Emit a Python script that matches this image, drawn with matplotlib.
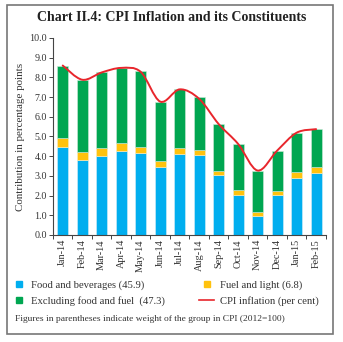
import matplotlib
matplotlib.use("Agg")
import matplotlib.pyplot as plt
import numpy as np
from matplotlib.lines import Line2D
from matplotlib.patches import Rectangle, PathPatch
from matplotlib.path import Path

# data (contribution in percentage points)
months = ["Jan-14", "Feb-14", "Mar-14", "Apr-14", "May-14", "Jun-14", "Jul-14",
          "Aug-14", "Sep-14", "Oct-14", "Nov-14", "Dec-14", "Jan-15", "Feb-15"]
food = [4.46, 3.78, 3.99, 4.27, 4.14, 3.43, 4.12, 4.05, 3.02, 2.03, 0.95, 2.03, 2.89, 3.13]
fuel = [0.44, 0.41, 0.40, 0.38, 0.32, 0.30, 0.29, 0.28, 0.22, 0.25, 0.22, 0.22, 0.29, 0.30]
core = [3.70, 3.69, 3.86, 3.83, 3.84, 3.04, 2.98, 2.65, 2.37, 2.32, 2.08, 2.01, 2.00, 1.93]
cpi = [8.60, 7.88, 8.25, 8.48, 8.28, 6.77, 7.39, 6.91, 5.63, 4.62, 3.27, 4.28, 5.19, 5.37]

BLUE = "#00aeef"
YELLOW = "#ffc20e"
GREEN = "#00a651"
RED = "#e8262c"
SERIF = "Liberation Serif"

plt.rcParams["font.family"] = SERIF

fig = plt.figure(figsize=(3.43, 3.42), dpi=100)
ax = fig.add_axes([0.1545, 0.313, 0.7955, 0.576])

x = np.arange(len(months))
food = np.array(food)
fuel = np.array(fuel)
core = np.array(core)
w = 0.56
ax.bar(x, food, w, color=BLUE, edgecolor="#d8eef6", linewidth=0.4)
ax.bar(x, fuel, w, bottom=food, color=YELLOW, edgecolor="#f6ecc8", linewidth=0.4)
ax.bar(x, core, w, bottom=food + fuel, color=GREEN, edgecolor="#cfe8d8", linewidth=0.4)


# smooth CPI line (Catmull-Rom drawn as bezier segments)
def smooth_path(xs, ys, t=1 / 6):
    pts = np.column_stack([xs, ys])
    verts = [pts[0]]
    codes = [Path.MOVETO]
    n = len(pts)
    for i in range(n - 1):
        p0 = pts[max(i - 1, 0)]
        p1 = pts[i]
        p2 = pts[i + 1]
        p3 = pts[min(i + 2, n - 1)]
        c1 = p1 + (p2 - p0) * t
        c2 = p2 - (p3 - p1) * t
        verts += [c1, c2, p2]
        codes += [Path.CURVE4] * 3
    return Path(verts, codes)


ax.add_patch(PathPatch(smooth_path(x, cpi), fill=False, edgecolor=RED, linewidth=1.4,
                       zorder=3, capstyle="round"))

ax.set_xlim(-0.5, len(months) - 0.5)
ax.set_ylim(0, 10)
ax.set_yticks(np.arange(0, 11, 1))
ax.set_yticklabels([f"{v:.1f}" for v in np.arange(0, 11, 1)], fontsize=7.2, color="#333333")
ax.set_xticks(x)
ax.set_xticklabels(months, rotation=90, fontsize=7.4, color="#333333")
ax.set_xticks(np.arange(-0.5, len(months), 1), minor=True)
ax.tick_params(axis="x", which="major", length=0, pad=3)
ax.tick_params(axis="x", which="minor", length=3, width=0.7, color="#444444")
ax.tick_params(axis="y", length=3, width=0.7, color="#444444", pad=1.2)
for s in ["top", "right"]:
    ax.spines[s].set_visible(False)
for s in ["left", "bottom"]:
    ax.spines[s].set_linewidth(0.8)
    ax.spines[s].set_color("#444444")

ax.set_ylabel("Contribution in percentage points", fontsize=7.9, color="#333333", labelpad=3)

fig.text(0.5, 0.948, "Chart II.4: CPI Inflation and its Constituents", ha="center", va="center",
         fontsize=10, fontweight="bold", color="#222222")

# legend, two columns
left_handles = [Line2D([], [], marker="s", ls="none", color=BLUE, markersize=4.5),
                Line2D([], [], marker="s", ls="none", color=GREEN, markersize=4.5)]
right_handles = [Line2D([], [], marker="s", ls="none", color=YELLOW, markersize=4.5),
                 Line2D([], [], color=RED, linewidth=1.2)]
leg_kw = dict(frameon=False, fontsize=7.7, labelspacing=0.6, borderaxespad=0, borderpad=0)
l1 = fig.legend(left_handles, ["Food and beverages (45.9)", "Excluding food and fuel  (47.3)"],
                loc="upper left", bbox_to_anchor=(0.038, 0.181), handlelength=1.1,
                handletextpad=0.6, **leg_kw)
l2 = fig.legend(right_handles, ["Fuel and light (6.8)", "CPI inflation (per cent)"],
                loc="upper left", bbox_to_anchor=(0.58, 0.181), handlelength=1.45,
                handletextpad=0.55, **leg_kw)
for lg in (l1, l2):
    for t in lg.get_texts():
        t.set_color("#333333")

fig.text(0.044, 0.068, "Figures in parentheses indicate weight of the group in CPI (2012=100)",
         fontsize=6.8, color="#333333", va="center")

# outer frame
fig.patches.append(Rectangle((0.02, 0.022), 0.952, 0.963, transform=fig.transFigure,
                             fill=False, edgecolor="#777777", linewidth=1.2))

fig.savefig("out.png", dpi=100)
